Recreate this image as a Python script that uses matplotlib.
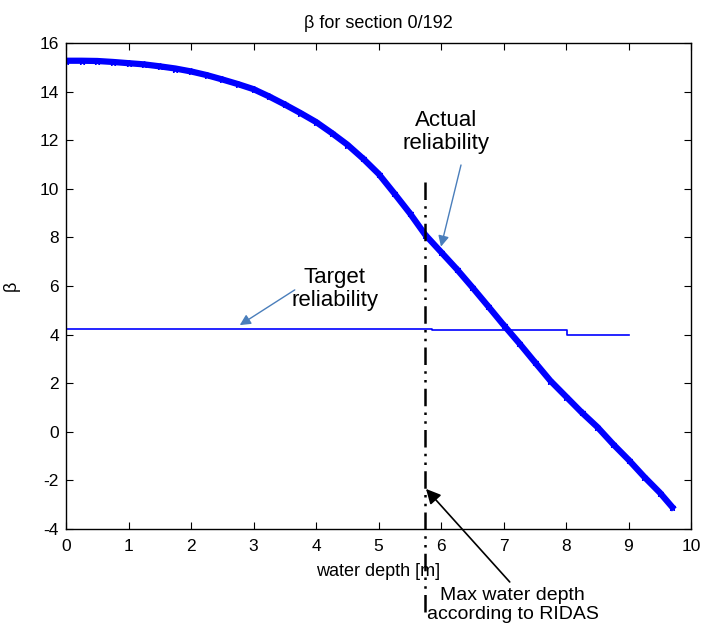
import numpy as np
import matplotlib
matplotlib.use("Agg")
import matplotlib.pyplot as plt

# actual reliability (beta) vs water depth
depth_actual = [0.00, 0.25, 0.50, 0.75, 1.00, 1.25, 1.50, 1.75, 2.00, 2.25,
                2.50, 2.75, 3.00, 3.25, 3.50, 3.75, 4.00, 4.25, 4.50, 4.75,
                5.00, 5.25, 5.50, 5.75, 6.00, 6.25, 6.50, 6.75, 7.00, 7.25,
                7.50, 7.75, 8.00, 8.25, 8.50, 8.75, 9.00, 9.25, 9.50, 9.70]
beta_actual = [15.27, 15.27, 15.26, 15.22, 15.17, 15.12, 15.04, 14.95, 14.83, 14.68,
               14.50, 14.31, 14.10, 13.80, 13.47, 13.12, 12.75, 12.30, 11.82, 11.25,
               10.62, 9.82, 9.00, 8.10, 7.40, 6.70, 5.95, 5.18, 4.40, 3.65,
               2.87, 2.10, 1.45, 0.80, 0.20, -0.50, -1.15, -1.85, -2.50, -3.10]

# target reliability (step function)
depth_target = [0.0, 5.85, 8.02, 9.0]
beta_target = [4.22, 4.17, 4.00, 4.00]

max_depth = 5.75          # max water depth according to RIDAS
max_line_y = (10.3, -7.6)  # extent of the marker line (runs below the axes)

plt.rcParams['font.family'] = ['Liberation Sans', 'DejaVu Sans']
plt.rcParams['axes.unicode_minus'] = False

fig = plt.figure(figsize=(7.03, 6.30), dpi=100)
ax = fig.add_axes([66/703, 1-529/630, 625/703, 486/630])

ax.plot(depth_target, beta_target, drawstyle='steps-post', color='#0000ff', lw=1.2)
ax.plot(depth_actual, beta_actual, color='#0000ff', lw=4.5, marker='*',
        markersize=5, markeredgewidth=1)

ax.plot([max_depth, max_depth], max_line_y, color='black', lw=1.8,
        dashes=(7, 2.5, 1, 2.5, 1, 2.5), clip_on=False)

ax.set_xlim(0, 10)
ax.set_ylim(-4, 16)
ax.set_xticks(range(0, 11))
ax.set_yticks(range(-4, 17, 2))
ax.tick_params(direction='in', top=True, right=True, length=5, labelsize=12.5, pad=5)
ax.tick_params(axis='x', pad=7)
for s in ax.spines.values():
    s.set_linewidth(1.0)

ax.set_title('β for section 0/192', fontsize=13, pad=11)
ax.set_xlabel('water depth [m]', fontsize=13, labelpad=7)
ax.set_ylabel('β', fontsize=13, labelpad=14)

txt = dict(fontsize=16, ha='center', va='center', linespacing=1.1)
blue_arrow = dict(arrowstyle='-|>', color='#4a7ebb', lw=1, mutation_scale=16,
                  shrinkA=0, shrinkB=0)
black_arrow = dict(arrowstyle='-|>', color='black', lw=1.2, mutation_scale=22,
                   shrinkA=0, shrinkB=0)

ax.text(6.08, 12.34, 'Actual\nreliability', **txt)
ax.annotate('', xy=(6.0, 7.62), xytext=(6.32, 10.98), arrowprops=blue_arrow)

ax.text(4.30, 5.88, 'Target\nreliability', **txt)
ax.annotate('', xy=(2.78, 4.39), xytext=(3.66, 5.84), arrowprops=blue_arrow)

ax.text(7.15, -7.13, 'Max water depth\naccording to RIDAS', clip_on=False,
        **dict(txt, fontsize=14))
ax.annotate('', xy=(5.76, -2.35), xytext=(7.10, -6.18), arrowprops=black_arrow,
            annotation_clip=False)

fig.savefig('out.png', dpi=100)
